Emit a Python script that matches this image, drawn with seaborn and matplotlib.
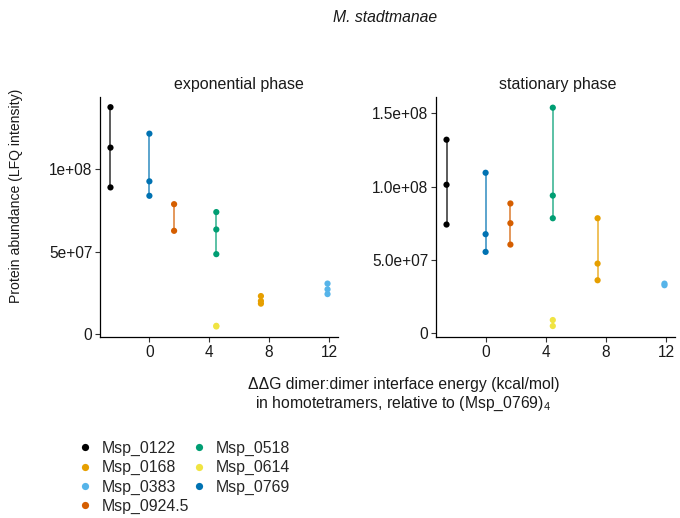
import numpy as np
import pandas as pd
import matplotlib
matplotlib.use("Agg")
import matplotlib.pyplot as plt
import seaborn as sns
from matplotlib.ticker import FixedLocator, FixedFormatter

# Per-protein interface energy (kcal/mol) and replicate LFQ intensities
proteins = ["Msp_0122", "Msp_0168", "Msp_0383", "Msp_0924.5", "Msp_0518", "Msp_0614", "Msp_0769"]
ddg = [-2.6, 7.45, 11.9, 1.65, 4.47, 4.47, 0.0]
colors = ["#000000", "#E69F00", "#56B4E9", "#D55E00", "#009E73", "#F0E442", "#0072B2"]

exp_values = {
    "Msp_0122": [1.378e8, 1.132e8, 0.890e8],
    "Msp_0168": [0.229e8, 0.199e8, 0.183e8],
    "Msp_0383": [0.305e8, 0.270e8, 0.241e8],
    "Msp_0924.5": [0.788e8, 0.626e8],
    "Msp_0518": [0.740e8, 0.634e8, 0.484e8],
    "Msp_0614": [0.048e8, 0.044e8],
    "Msp_0769": [1.217e8, 0.927e8, 0.839e8],
}
stat_values = {
    "Msp_0122": [1.320e8, 1.012e8, 0.740e8],
    "Msp_0168": [0.783e8, 0.473e8, 0.359e8],
    "Msp_0383": [0.336e8, 0.325e8],
    "Msp_0924.5": [0.884e8, 0.749e8, 0.603e8],
    "Msp_0518": [1.539e8, 0.938e8, 0.783e8],
    "Msp_0614": [0.087e8, 0.046e8],
    "Msp_0769": [1.094e8, 0.674e8, 0.553e8],
}

phase_titles = ["exponential phase", "stationary phase"]
left_ticks = [0, 5e7, 1e8]
left_labels = ["0", "5e+07", "1e+08"]
right_ticks = [0, 5e7, 1e8, 1.5e8]
right_labels = ["0", "5.0e+07", "1.0e+08", "1.5e+08"]
x_ticks = [0, 4, 8, 12]


def long_table(values):
    rows = []
    for p, d in zip(proteins, ddg):
        for v in values[p]:
            rows.append({"protein": p, "ddg": d, "lfq": v})
    return pd.DataFrame(rows)


palette = dict(zip(proteins, colors))
W, H = 680, 518
TXT = "#1a1a1a"

sns.set_theme(style="ticks")
plt.rcParams["font.family"] = ["Liberation Sans", "DejaVu Sans"]
plt.rcParams["mathtext.fontset"] = "custom"
plt.rcParams["mathtext.rm"] = "Liberation Sans"
plt.rcParams["mathtext.it"] = "Liberation Sans:italic"

fig = plt.figure(figsize=(W / 100, H / 100), dpi=100)
ax_l = fig.add_axes([100 / W, 1 - 337 / H, 238 / W, 240 / H])
ax_r = fig.add_axes([436 / W, 1 - 337 / H, 239 / W, 240 / H])

setups = [
    (ax_l, exp_values, (-2e6, 1.44e8), left_ticks, left_labels),
    (ax_r, stat_values, (-2.9e6, 1.612e8), right_ticks, right_labels),
]

for ax, vals, ylim, yt, yl in setups:
    df = long_table(vals)
    span = df.groupby("protein").agg(ddg=("ddg", "first"), lo=("lfq", "min"), hi=("lfq", "max"))
    for p, row in span.iterrows():
        ax.vlines(row["ddg"], row["lo"], row["hi"], color=palette[p], lw=1.2, alpha=0.75, zorder=1)
    sns.scatterplot(data=df, x="ddg", y="lfq", hue="protein", hue_order=proteins,
                    palette=palette, s=20, edgecolor="none", legend=False, ax=ax, zorder=2)
    ax.set_xlim(-3.3, 12.6)
    ax.set_ylim(*ylim)
    ax.xaxis.set_major_locator(FixedLocator(x_ticks))
    ax.yaxis.set_major_locator(FixedLocator(yt))
    ax.yaxis.set_major_formatter(FixedFormatter(yl))
    ax.set_xlabel("")
    ax.set_ylabel("")
    ax.tick_params(labelsize=11.2, length=3.5, width=0.8, color="#333333", labelcolor=TXT, pad=2)
    for s in ["top", "right"]:
        ax.spines[s].set_visible(False)
    for s in ["left", "bottom"]:
        ax.spines[s].set_linewidth(0.9)
        ax.spines[s].set_color("black")

fig.text(239 / W, 1 - 85 / H, phase_titles[0], ha="center", va="center", fontsize=11.5, color=TXT)
fig.text(558 / W, 1 - 85 / H, phase_titles[1], ha="center", va="center", fontsize=11.5, color=TXT)
fig.text(333 / W, 1 - 18 / H, "M. stadtmanae", ha="left", va="center", fontsize=11.3,
         style="italic", color=TXT)
fig.text(16 / W, 1 - 196 / H, "Protein abundance (LFQ intensity)", rotation=90,
         ha="center", va="center", fontsize=10.1, color=TXT)
fig.text(248 / W, 1 - 384 / H, "ΔΔG dimer:dimer interface energy (kcal/mol)",
         ha="left", va="center", fontsize=11.3, color=TXT)
fig.text(255 / W, 1 - 404 / H, "in homotetramers, relative to (Msp_0769)$_4$",
         ha="left", va="center", fontsize=11.3, color=TXT)

handles = [plt.Line2D([], [], ls="", marker="o", ms=5.2, mec="none", mfc=palette[p]) for p in proteins]
fig.legend(handles, proteins, loc="upper left", bbox_to_anchor=(77 / W, 1 - 441 / H), ncol=2,
           frameon=False, fontsize=11.4, handlelength=1.0, handletextpad=0.56, columnspacing=0.1,
           labelspacing=0.26, borderaxespad=0, borderpad=0)

fig.savefig("out.png", dpi=100)
